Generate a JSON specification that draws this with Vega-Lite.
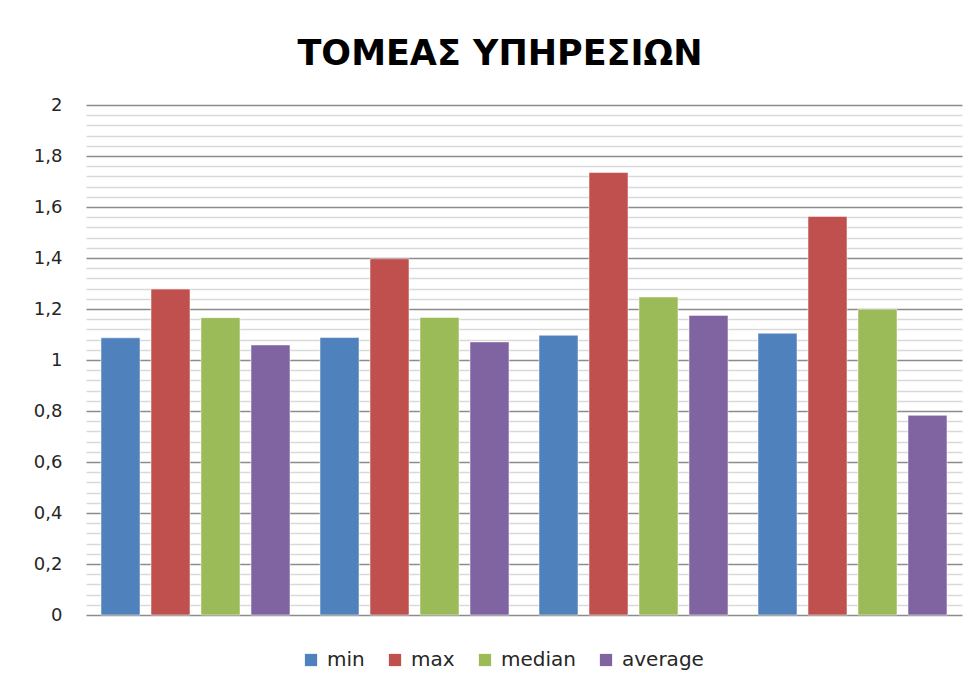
{
  "$schema": "https://vega.github.io/schema/vega-lite/v6.json",
  "autosize": {"type": "none"},
  "width": 876,
  "height": 510,
  "padding": {"left": 86, "top": 105, "right": 15, "bottom": 73},
  "background": "white",
  "title": {
    "text": "ΤΟΜΕΑΣ ΥΠΗΡΕΣΙΩΝ",
    "font": "DejaVu Sans",
    "fontSize": 35,
    "fontWeight": "bold",
    "color": "#000000",
    "anchor": "middle",
    "dx": -24,
    "offset": 24
  },
  "data": {
    "values": [
      {"group": "1", "stat": "min", "value": 1.087},
      {"group": "1", "stat": "max", "value": 1.278},
      {"group": "1", "stat": "median", "value": 1.166},
      {"group": "1", "stat": "average", "value": 1.059},
      {"group": "2", "stat": "min", "value": 1.088},
      {"group": "2", "stat": "max", "value": 1.397},
      {"group": "2", "stat": "median", "value": 1.167},
      {"group": "2", "stat": "average", "value": 1.071},
      {"group": "3", "stat": "min", "value": 1.097},
      {"group": "3", "stat": "max", "value": 1.735},
      {"group": "3", "stat": "median", "value": 1.247},
      {"group": "3", "stat": "average", "value": 1.175},
      {"group": "4", "stat": "min", "value": 1.105},
      {"group": "4", "stat": "max", "value": 1.563},
      {"group": "4", "stat": "median", "value": 1.199},
      {"group": "4", "stat": "average", "value": 0.783}
    ]
  },
  "mark": {"type": "bar", "stroke": "#ffffff", "strokeOpacity": 0.5, "strokeWidth": 1},
  "encoding": {
    "x": {
      "field": "group",
      "type": "nominal",
      "scale": {"paddingInner": 0.137, "paddingOuter": 0.0685},
      "axis": null
    },
    "xOffset": {
      "field": "stat",
      "type": "nominal",
      "sort": ["min", "max", "median", "average"],
      "scale": {"paddingInner": 0.22, "paddingOuter": 0}
    },
    "y": {
      "field": "value",
      "type": "quantitative",
      "scale": {"domain": [0, 2], "nice": false, "zero": true},
      "axis": {
        "title": null,
        "values": [0,0.04,0.08,0.12,0.16,0.2,0.24,0.28,0.32,0.36,0.4,0.44,0.48,0.52,0.56,0.6,0.64,0.68,0.72,0.76,0.8,0.84,0.88,0.92,0.96,1,1.04,1.08,1.12,1.16,1.2,1.24,1.28,1.32,1.36,1.4,1.44,1.48,1.52,1.56,1.6,1.64,1.68,1.72,1.76,1.8,1.84,1.88,1.92,1.96,2],
        "labelExpr": "abs(datum.value*5 - round(datum.value*5)) < 0.001 ? replace(format(datum.value, '.1~f'), '.', ',') : ''",
        "grid": true,
        "gridColor": {"condition": {"test": "abs(datum.value*5 - round(datum.value*5)) < 0.001", "value": "#8c8c8c"}, "value": "#d9d9d9"},
        "gridWidth": 1.3,
        "domain": false,
        "ticks": false,
        "labelPadding": 24,
        "labelFont": "DejaVu Sans",
        "labelFontSize": 18,
        "labelColor": "#262626"
      }
    },
    "color": {
      "field": "stat",
      "type": "nominal",
      "sort": ["min", "max", "median", "average"],
      "scale": {"domain": ["min", "max", "median", "average"], "range": ["#4f81bd", "#c0504d", "#9bbb59", "#8064a2"]},
      "legend": {
        "title": null,
        "orient": "none",
        "direction": "horizontal",
        "legendX": 215,
        "legendY": 545,
        "padding": 0,
        "symbolType": "square",
        "symbolSize": 150,
        "symbolStrokeWidth": 0,
        "labelFont": "DejaVu Sans",
        "labelFontSize": 20,
        "labelColor": "#262626",
        "labelOffset": 6,
        "columnPadding": 20
      }
    }
  },
  "config": {"view": {"stroke": null}}
}
